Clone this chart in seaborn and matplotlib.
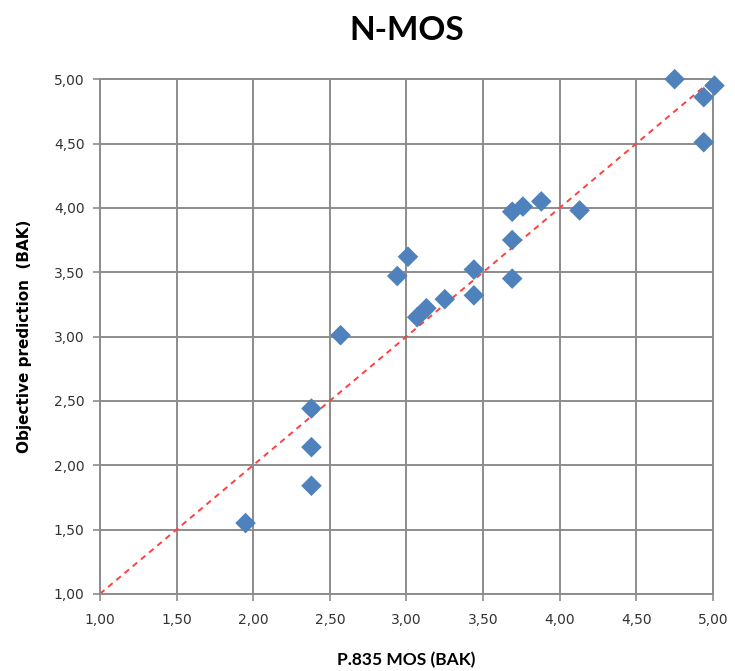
import matplotlib
matplotlib.use("Agg")
import matplotlib.pyplot as plt
import matplotlib.ticker as mticker
import seaborn as sns
import numpy as np
import pandas as pd

# values
mos_bak = [1.95, 2.38, 2.38, 2.38, 2.57, 2.94, 3.01, 3.07, 3.13, 3.25, 3.44,
           3.44, 3.69, 3.69, 3.69, 3.76, 3.88, 4.13, 4.75, 4.94, 4.94, 5.01]
pred_bak = [1.55, 1.84, 2.14, 2.44, 3.01, 3.47, 3.62, 3.15, 3.22, 3.29, 3.52,
            3.32, 3.45, 3.75, 3.97, 4.01, 4.05, 3.98, 5.00, 4.86, 4.51, 4.95]
ideal = [1.0, 5.0]
ticks = [1.0, 1.5, 2.0, 2.5, 3.0, 3.5, 4.0, 4.5, 5.0]

df = pd.DataFrame({"mos": mos_bak, "pred": pred_bak})

sns.set_style("white")
fig = plt.figure(figsize=(7.35, 6.71), dpi=100)
ax = fig.add_axes([0.136, 0.115, 0.834, 0.767])

grid_col = "#8c8c8c"
ax.set_xlim(1, 5)
ax.set_ylim(1, 5)
ax.set_xticks(ticks)
ax.set_yticks(ticks)
ax.grid(True, color=grid_col, linewidth=1.4)
ax.set_axisbelow(True)
for s in ax.spines.values():
    s.set_color(grid_col)
    s.set_linewidth(1.4)

ax.plot(ideal, ideal, color="#ff4040", linestyle=(0, (3, 2.5)), linewidth=1.4, zorder=2)
sns.scatterplot(data=df, x="mos", y="pred", marker="D", s=110, color="#4f81bd",
                edgecolor="none", ax=ax, zorder=3, clip_on=False)

fmt = mticker.FuncFormatter(lambda v, p: f"{v:.2f}".replace(".", ","))
ax.xaxis.set_major_formatter(fmt)
ax.yaxis.set_major_formatter(fmt)
ax.tick_params(axis="both", which="major", direction="out", length=5, width=1.2,
               color=grid_col, labelsize=10, labelcolor="#333333", pad=6,
               left=True, bottom=True)
ax.tick_params(axis="x", pad=9)

ax.set_title("N-MOS", fontsize=24, fontweight="bold", family="Lato", color="black", pad=28)
ax.set_xlabel("P.835 MOS (BAK)", fontsize=12.5, fontweight="bold", family="Lato",
              color="black", labelpad=18)
ax.set_ylabel("Objective prediction  (BAK)", fontsize=11, fontweight="bold",
              color="black", labelpad=16)

fig.savefig("out.png", dpi=100, facecolor="white")
